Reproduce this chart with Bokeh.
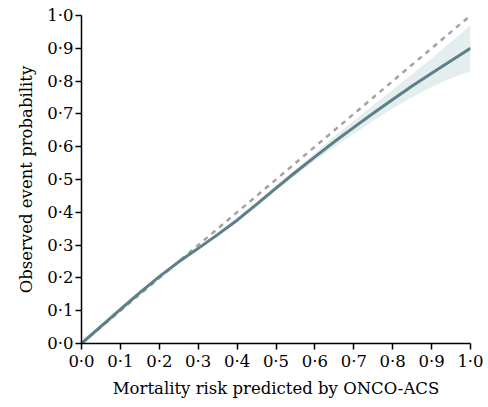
from bokeh.plotting import figure
from bokeh.models import Range1d, FixedTicker
from bokeh.embed import file_html
from bokeh.resources import INLINE

# data
pred = [0.0, 0.05, 0.1, 0.15, 0.2, 0.25, 0.3, 0.35, 0.4, 0.45, 0.5, 0.55, 0.6, 0.65, 0.7, 0.75, 0.8, 0.85, 0.9, 0.95, 1.0]
obs = [0.0, 0.052, 0.104, 0.155, 0.204, 0.249, 0.290, 0.332, 0.376, 0.424, 0.474, 0.522, 0.569, 0.615, 0.659, 0.702, 0.744, 0.785, 0.824, 0.862, 0.900]
lower = [0.0, 0.046, 0.098, 0.149, 0.198, 0.243, 0.284, 0.326, 0.370, 0.417, 0.466, 0.513, 0.557, 0.599, 0.639, 0.679, 0.717, 0.751, 0.782, 0.809, 0.830]
upper = [0.012, 0.058, 0.110, 0.161, 0.210, 0.255, 0.296, 0.338, 0.382, 0.431, 0.482, 0.531, 0.581, 0.631, 0.679, 0.726, 0.774, 0.822, 0.870, 0.920, 0.970]
ref_x = [0.0, 1.0]
ref_y = [0.0, 1.0]
ticks = [0.0, 0.1, 0.2, 0.3, 0.4, 0.5, 0.6, 0.7, 0.8, 0.9, 1.0]
tick_labels = {t: f"{t:.1f}".replace(".", "\u00b7") for t in ticks}

FONT = "DejaVu Serif"

p = figure(width=488, height=407, output_backend="svg", toolbar_location=None,
           x_range=Range1d(0, 1), y_range=Range1d(0, 1),
           min_border_left=81, min_border_right=18, min_border_top=15, min_border_bottom=64)

p.varea(x=pred, y1=lower, y2=upper, fill_color="#e4eeef", fill_alpha=1.0)
p.line(ref_x, ref_y, line_color="#a3a3a3", line_width=2.5, line_dash="5 5")
p.line(pred, obs, line_color="#5c7f88", line_width=3, line_join="round")

p.grid.visible = False
p.outline_line_color = None

for ax in (p.xaxis[0], p.yaxis[0]):
    ax.ticker = FixedTicker(ticks=ticks)
    ax.major_label_overrides = tick_labels
    ax.minor_tick_line_color = None
    ax.major_tick_in = 0
    ax.major_tick_out = 6
    ax.axis_line_width = 1.5
    ax.major_tick_line_width = 1.5
    ax.axis_line_color = "black"
    ax.major_tick_line_color = "black"
    ax.major_label_text_font = FONT
    ax.major_label_text_font_size = "16.5px"
    ax.major_label_text_color = "black"
    ax.axis_label_text_font = FONT
    ax.axis_label_text_font_size = "16.5px"
    ax.axis_label_text_font_style = "normal"
    ax.axis_label_text_color = "black"
    ax.major_label_standoff = 2

p.xaxis.axis_label = "Mortality risk predicted by ONCO-ACS"
p.yaxis.axis_label = "Observed event probability"
p.xaxis.axis_label_standoff = 5
p.yaxis.axis_label_standoff = 8

open("out.html", "w").write(file_html(p, INLINE))
